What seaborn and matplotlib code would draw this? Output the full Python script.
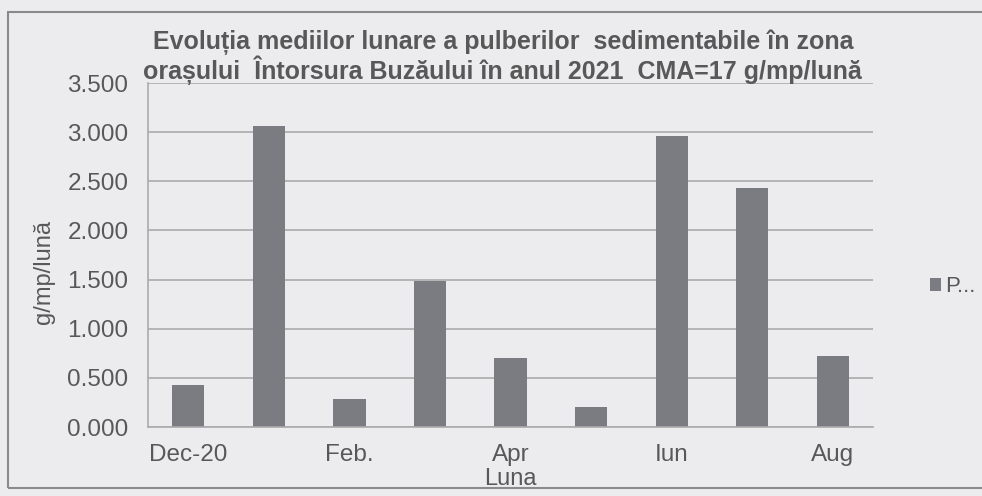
import matplotlib
matplotlib.use("Agg")
import matplotlib.pyplot as plt
import seaborn as sns
import numpy as np
from matplotlib.patches import Rectangle

months = ["Dec-20", "Ian.", "Feb.", "Mar.", "Apr", "Mai", "Iun", "Iul", "Aug"]
values = [0.43, 3.06, 0.28, 1.49, 0.70, 0.20, 2.96, 2.43, 0.72]
shown_ticks = ["Dec-20", "Feb.", "Apr", "Iun", "Aug"]
y_ticks = [0.0, 0.5, 1.0, 1.5, 2.0, 2.5, 3.0, 3.5]
series_name = "P..."
title_l1 = "Evoluția mediilor lunare a pulberilor  sedimentabile în zona"
title_l2 = "orașului  Întorsura Buzăului în anul 2021  CMA=17 g/mp/lună"

sns.set_theme(style="white")
plt.rcParams["font.family"] = ["Liberation Sans", "DejaVu Sans"]

bg = "#ececef"
txt = "#585858"
bar_c = "#7b7b82"
grid_c = "#ababab"

W, H = 982, 496
fig = plt.figure(figsize=(W / 100, H / 100), dpi=100, facecolor=bg)
ax = fig.add_axes([148 / W, 1 - 427 / H, (873 - 148) / W, (427 - 83) / H])
ax.set_facecolor(bg)

sns.barplot(x=months, y=values, color=bar_c, saturation=1, width=0.4,
            ax=ax, label=series_name, linewidth=0)

ax.set_xlim(-0.5, len(months) - 0.5)
ax.set_ylim(0, 3.5)
ax.set_yticks(y_ticks)
ax.set_yticklabels([f"{v:.3f}" for v in y_ticks])
pos = [months.index(m) for m in shown_ticks]
ax.set_xticks(pos)
ax.set_xticklabels(shown_ticks)
ax.tick_params(axis="both", length=0, labelsize=17.5, colors=txt)
ax.tick_params(axis="y", pad=14)
ax.tick_params(axis="x", pad=12)

ax.yaxis.grid(True, color=grid_c, linewidth=1.2)
ax.set_axisbelow(True)
for s in ["top", "right"]:
    ax.spines[s].set_visible(False)
ax.spines["left"].set_color(grid_c)
ax.spines["left"].set_linewidth(1.2)
ax.spines["bottom"].set_color(grid_c)
ax.spines["bottom"].set_linewidth(1.2)

ax.set_ylabel("g/mp/lună", fontsize=17, color=txt)
ax.yaxis.set_label_coords(-0.128, 0.45)
ax.set_xlabel("Luna", fontsize=17, color=txt)
ax.xaxis.set_label_coords(0.5, -0.12)

fig.text(0.512, 1 - 49 / H, title_l1, ha="center", va="baseline",
         fontsize=18, fontweight="bold", color=txt)
fig.text(0.512, 1 - 79 / H, title_l2, ha="center", va="baseline",
         fontsize=18, fontweight="bold", color=txt)

leg = ax.legend(loc="center left", bbox_to_anchor=(930 / W, 1 - 287 / H),
                bbox_transform=fig.transFigure, frameon=False, fontsize=16,
                handlelength=0.5, handleheight=0.5, handletextpad=0.2,
                borderpad=0, borderaxespad=0, labelcolor=txt)

fig.patches.append(Rectangle((8 / W, 8 / H), 1.2, 1 - 20 / H,
                             transform=fig.transFigure, fill=False,
                             edgecolor="#8a8a8a", linewidth=1.5))

fig.savefig("out.png", dpi=100, facecolor=bg)
